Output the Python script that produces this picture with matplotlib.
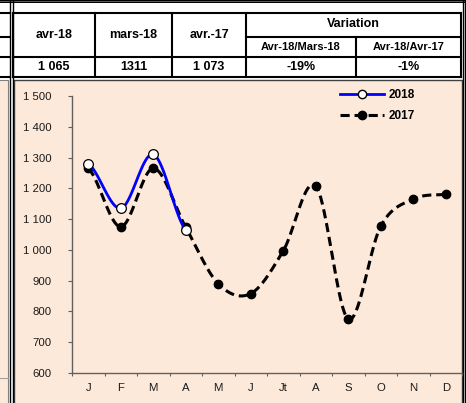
"""
Monthly comparison 2018 vs 2017 with summary table
"""
import numpy as np
import matplotlib
matplotlib.use("Agg")
import matplotlib.pyplot as plt
from matplotlib.patches import Rectangle
from matplotlib.lines import Line2D

plt.rcParams['font.family'] = ['Liberation Sans', 'DejaVu Sans']

months = ["J", "F", "M", "A", "M", "J", "Jt", "A", "S", "O", "N", "D"]
v2018 = [1280, 1135, 1310, 1065]
v2017 = [1265, 1075, 1265, 1073, 890, 858, 997, 1208, 775, 1077, 1165, 1180]
yticks = [600, 700, 800, 900, 1000, 1100, 1200, 1300, 1400, 1500]

head_cols = ["avr-18", "mars-18", "avr.-17"]
head_vals = ["1 065", "1311", "1 073"]
var_title = "Variation"
var_cols = ["Avr-18/Mars-18", "Avr-18/Avr-17"]
var_vals = ["-19%", "-1%"]

PEACH = "#FDE9D9"
W, H = 466, 403


def smooth(y, n=40):
    # excel-like smoothed line (cardinal spline through the points)
    y = np.asarray(y, float)
    p = np.concatenate([[y[0]], y, [y[-1]]])
    m = (p[2:] - p[:-2]) / 2
    t = np.linspace(0, 1, n)
    h00 = 2 * t**3 - 3 * t**2 + 1
    h10 = t**3 - 2 * t**2 + t
    h01 = -2 * t**3 + 3 * t**2
    h11 = t**3 - t**2
    xs, ys = [], []
    for i in range(len(y) - 1):
        xs.append(i + t)
        ys.append(h00 * y[i] + h10 * m[i] + h01 * y[i + 1] + h11 * m[i + 1])
    return np.concatenate(xs), np.concatenate(ys)


fig = plt.figure(figsize=(W / 100, H / 100), dpi=100)
fig.patch.set_facecolor("white")

# background layer in pixel coords: panels, borders, table
bg = fig.add_axes([0, 0, 1, 1])
bg.set_xlim(0, W)
bg.set_ylim(H, 0)
bg.axis("off")

bg.add_patch(Rectangle((14, 80), 448, 330, fc=PEACH, ec="#404040", lw=1))
bg.add_patch(Rectangle((-2, 80), 10, 330, fc=PEACH, ec="#808080", lw=0.8))
bg.plot([0, 8], [378, 378], color="#a0a0a0", lw=0.8)

# top strip (black / green / black)
bg.add_patch(Rectangle((0, -1), W, 4.3, fc="black", ec="none"))
bg.add_patch(Rectangle((0, 0.6), W, 1.7, fc="#1a8a1a", ec="none"))

# double vertical borders
for xv in [9.5, 13, 462.8, 465.3]:
    bg.plot([xv, xv], [0, H], color="black", lw=1)

# table grid
tlw = 1.5
for yv in [13, 57, 77]:
    bg.plot([13, 461], [yv, yv], color="black", lw=tlw)
    bg.plot([0, 9.5], [yv, yv], color="black", lw=tlw)
bg.plot([246, 461], [37, 37], color="black", lw=tlw)
bg.plot([0, 9.5], [37, 37], color="black", lw=tlw)
for xv in [13, 95, 172, 246, 461]:
    bg.plot([xv, xv], [13, 77], color="black", lw=tlw)
bg.plot([356, 356], [37, 77], color="black", lw=tlw)

col_edges = [13, 95, 172, 246]
for i in range(len(head_cols)):
    cx = (col_edges[i] + col_edges[i + 1]) / 2
    bg.text(cx, 35, head_cols[i], ha="center", va="center",
            fontsize=9, fontweight="bold")
    bg.text(cx, 67, head_vals[i], ha="center", va="center",
            fontsize=9, fontweight="bold")
bg.text((246 + 461) / 2, 24, var_title, ha="center", va="center",
        fontsize=9, fontweight="bold")
var_edges = [246, 356, 461]
for i in range(len(var_cols)):
    cx = (var_edges[i] + var_edges[i + 1]) / 2
    bg.text(cx, 47.5, var_cols[i], ha="center", va="center",
            fontsize=8, fontweight="bold")
    bg.text(cx, 67.5, var_vals[i], ha="center", va="center",
            fontsize=9, fontweight="bold")

# chart
ax = fig.add_axes([72 / W, (H - 373) / H, 390 / W, 277 / H])
ax.set_facecolor("none")
ax.set_xlim(0, 12)
ax.set_ylim(600, 1500)

sx, sy = smooth(v2017)
ax.plot(sx + 0.5, sy, color="black", lw=2.2, ls=(0, (3, 1.6)),
        solid_capstyle="butt", zorder=3)
ax.plot(np.arange(len(v2017)) + 0.5, v2017, "o", color="black", ms=6,
        zorder=4, clip_on=False)

sx, sy = smooth(v2018)
ax.plot(sx + 0.5, sy, color="#0000FF", lw=2, zorder=5)
ax.plot(np.arange(len(v2018)) + 0.5, v2018, "o", mfc="white", mec="black",
        mew=0.9, ms=7, zorder=6)

for s in ["top", "right"]:
    ax.spines[s].set_visible(False)
for s in ["left", "bottom"]:
    ax.spines[s].set_color("#606060")
    ax.spines[s].set_linewidth(1)

ax.set_yticks(yticks)
ax.set_yticklabels([f"{v:,}".replace(",", " ") for v in yticks])
ax.tick_params(axis="y", direction="out", length=3, pad=12, labelsize=8.2,
               colors="#606060", labelcolor="#1a1a1a")
ax.set_xticks(np.arange(13))
ax.set_xticklabels([])
ax.set_xticks(np.arange(12) + 0.5, minor=True)
ax.set_xticklabels(months, minor=True)
ax.tick_params(axis="x", which="major", direction="out", length=2,
               colors="#606060")
ax.tick_params(axis="x", which="minor", length=0, pad=7, labelsize=8.2,
               labelcolor="#1a1a1a")

handles = [
    Line2D([], [], color="#0000FF", lw=2, marker="o", mfc="white",
           mec="black", ms=6),
    Line2D([], [], color="black", lw=2.2, ls=(0, (3, 1.6)), marker="o",
           ms=6),
]
leg = fig.legend(handles, ["2018", "2017"], loc="upper left",
                 bbox_to_anchor=(340 / W, 1 - 89 / H), frameon=False,
                 borderpad=0, borderaxespad=0, handlelength=3.7,
                 handletextpad=0.45, labelspacing=0.75,
                 prop={"weight": "bold", "size": 8.5})

fig.savefig("out.png", dpi=100)
